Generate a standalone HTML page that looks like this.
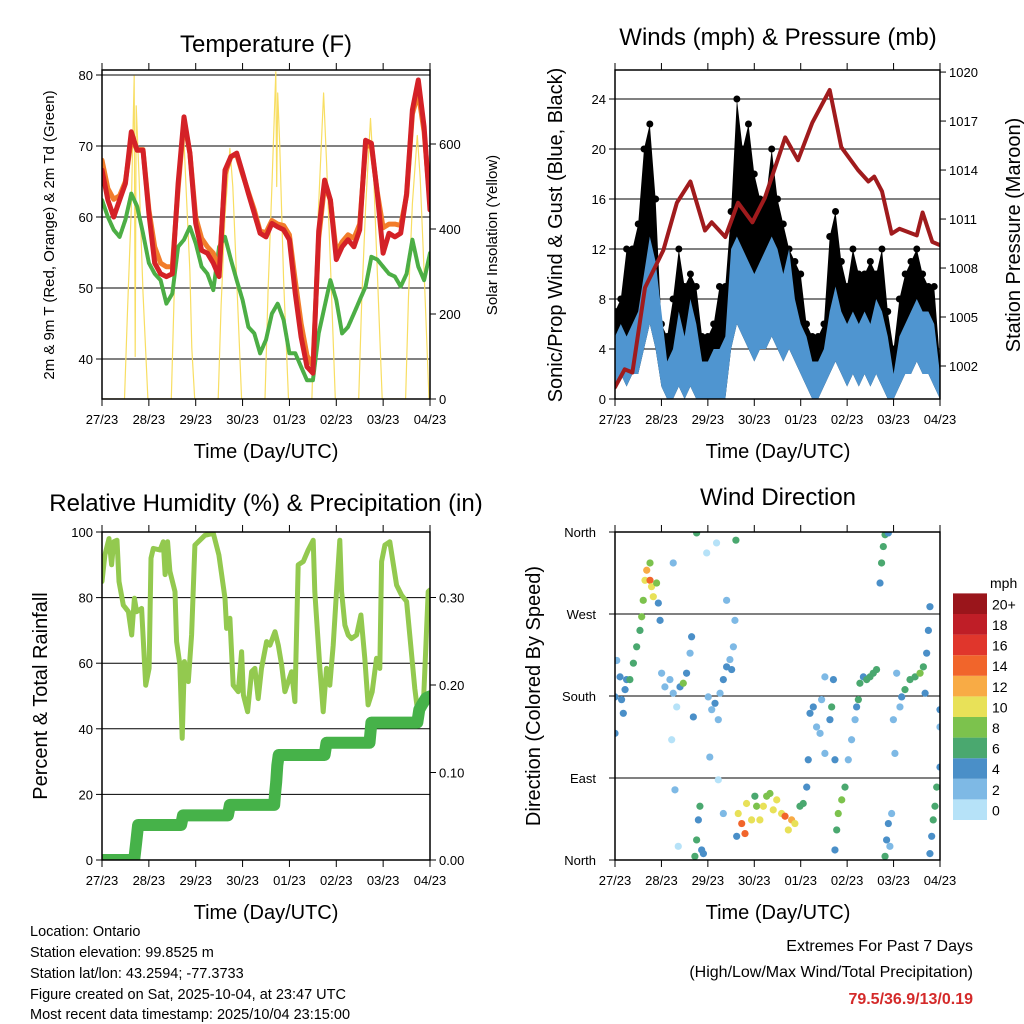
<!DOCTYPE html>
<html><head><meta charset="utf-8"><style>
html,body{margin:0;padding:0;background:#fff;}
svg{display:block;font-family:"Liberation Sans",Arial,sans-serif;}
</style></head><body>
<svg id="root" width="1024" height="1024" viewBox="0 0 1024 1024" xmlns="http://www.w3.org/2000/svg">
<defs>
<clipPath id="c1"><rect x="102" y="70" width="328" height="329"/></clipPath>
<clipPath id="c2"><rect x="615" y="70" width="325" height="329"/></clipPath>
<clipPath id="c3"><rect x="102" y="532" width="328" height="328"/></clipPath>
<clipPath id="c4"><rect x="615" y="532" width="325" height="328"/></clipPath>
</defs>
<g fill="#000">
<text x="266" y="52" font-size="24" text-anchor="middle">Temperature (F)</text>
<text x="778" y="45" font-size="24" text-anchor="middle">Winds (mph) &amp; Pressure (mb)</text>
<text x="266" y="511" font-size="24" text-anchor="middle">Relative Humidity (%) &amp; Precipitation (in)</text>
<text x="778" y="505" font-size="24" text-anchor="middle">Wind Direction</text>
<text transform="translate(54,235) rotate(-90)" font-size="15" text-anchor="middle">2m &amp; 9m T (Red, Orange) &amp; 2m Td (Green)</text>
<text transform="translate(497,235) rotate(-90)" font-size="15" text-anchor="middle">Solar Insolation (Yellow)</text>
<text transform="translate(562,235) rotate(-90)" font-size="20" text-anchor="middle">Sonic/Prop Wind &amp; Gust (Blue, Black)</text>
<text transform="translate(1020,235) rotate(-90)" font-size="20" text-anchor="middle">Station Pressure (Maroon)</text>
<text transform="translate(47,696) rotate(-90)" font-size="20" text-anchor="middle">Percent &amp; Total Rainfall</text>
<text transform="translate(540,696) rotate(-90)" font-size="20" text-anchor="middle">Direction (Colored By Speed)</text>
<text x="266" y="458" font-size="20" text-anchor="middle">Time (Day/UTC)</text>
<text x="778" y="458" font-size="20" text-anchor="middle">Time (Day/UTC)</text>
<text x="266" y="919" font-size="20" text-anchor="middle">Time (Day/UTC)</text>
<text x="778" y="919" font-size="20" text-anchor="middle">Time (Day/UTC)</text>
<g font-size="14.5">
<text x="30" y="936">Location: Ontario</text>
<text x="30" y="957">Station elevation: 99.8525 m</text>
<text x="30" y="978">Station lat/lon: 43.2594; -77.3733</text>
<text x="30" y="999">Figure created on Sat, 2025-10-04, at 23:47 UTC</text>
<text x="30" y="1019">Most recent data timestamp: 2025/10/04 23:15:00</text>
</g>
<text x="973" y="951" font-size="16" text-anchor="end">Extremes For Past 7 Days</text>
<text x="973" y="977" font-size="16" text-anchor="end">(High/Low/Max Wind/Total Precipitation)</text>
<text x="973" y="1004" font-size="16" font-weight="bold" fill="#d42a2a" text-anchor="end">79.5/36.9/13/0.19</text>
<text x="990" y="588" font-size="14">mph</text>
</g>
</svg>
<script>
// ---------- DATA ----------
const dayLabels=["27/23","28/23","29/23","30/23","01/23","02/23","03/23","04/23"];
const tempTicks=[40,50,60,70,80];
const solarTicks=[0,200,400,600];
const windTicks=[0,4,8,12,16,20,24];
const pressTicks=[1002,1005,1008,1011,1014,1017,1020];
const rhTicks=[0,20,40,60,80,100];
const precipTicks=[0,0.1,0.2,0.3];
const precipTickLabels=["0.00","0.10","0.20","0.30"];
const dirTicks=[0,90,180,270,360];
const dirTickLabels=["North","East","South","West","North"];
const speedBins=["0","2","4","6","8","10","12","14","16","18","20+"];

const hours3=[0,3,6,9,12,15,18,21,24,27,30,33,36,39,42,45,48,51,54,57,60,63,66,69,72,75,78,81,84,87,90,93,96,99,102,105,108,111,114,117,120,123,126,129,132,135,138,141,144,147,150,153,156,159,162,165,168];
const temp2m=[66.6,62.4,60,62.4,64.7,72,69.4,69.4,60.5,53.5,52,51.6,52,64.7,74.1,69,59.1,55.3,54.9,53.5,51.6,66.6,68.5,69,66.2,63.3,60.5,57.7,57.2,59.1,58.6,58.2,56.8,49.2,43.1,38.9,38,58,65.2,62.4,54,55.8,56.8,55.8,58.2,70.8,70.4,63.3,54.9,57.7,57.2,57.7,63.3,75.1,79.3,72.7,61];
const temp9m=[68,64,62.5,63,65,71,69.5,69.5,61,55.8,53.5,53,53,64,73.5,69,60,57,55.8,54.9,52.5,66,68.5,68.8,66,63.5,61,58,57.8,59.5,59,58.8,57.5,51,45,40.5,39,57,64.5,62.4,55,56.5,57.5,57,59,70,70,63.5,58.5,59,59,58.8,63,74.5,77.5,72,62];
const dewpoint=[62.4,60,58.2,57.2,59.6,63.3,61.5,57.7,53.5,52,51.1,47.8,49.2,55.8,56.8,58.6,56.3,53,52,49.7,55.8,57.2,54,51.1,48.3,44.5,43.6,40.8,42.7,46.4,47.8,45.5,40.8,40.8,38.9,37,37,43.6,47.4,51.1,48.3,43.6,44.5,46.4,48.3,50.2,54.4,54,53,52,51.6,50.2,52,56.8,53,51.1,54.9];
const solarHours=[0,11.5,13,15,16.5,17,17.5,19,21,23.5,35.5,37,39,41.5,43,45,46,47.5,59.5,61,63,65.5,67,69,71.5,83.5,85,87,88.5,89,89.5,90,91,93,95.5,107.5,109,111,113.5,115,117,119.5,131.5,133,135,137.5,139,141,143.5,155.5,157,159,161.5,163,165,167.5,168];
const solarVals=[0,0,200,450,760,100,690,520,250,0,0,250,480,660,500,300,120,0,0,220,430,590,500,280,0,0,250,500,700,770,500,720,600,280,0,0,250,460,720,560,320,0,0,230,450,660,540,300,0,0,240,460,620,520,300,0,0];

const pressHours=[0,5,9,15.5,25,32,39,46.5,50,57,63.6,71,77.5,88,94.6,102,111,117,125.6,131,134,138,143,147,156,159,164,168];
const pressVals=[1000.7,1001.8,1001.6,1006.8,1009.1,1012,1013.3,1010.3,1010.8,1009.9,1012,1010.8,1012.3,1016,1014.6,1016.9,1018.9,1015.4,1014,1013.3,1013.6,1012.7,1010.1,1010.4,1010,1011.4,1009.6,1009.4];
const gustHigh=[7,8,12,12,14,20,22,16,6,5,8,12,9,10,9,5,5,6,9,9,15,24,20,22,18,16,16,20,16,14,12,11,10,6,5,5,6,13,15,11,9,12,10,10,11,10,12,7,4,8,10,11,12,10,9,9,3];
const windHigh=[5,6,5,6,7,10,13,11,7,3,4,7,5,8,6,3,3,4,4,5,12,13,12,11,10,11,12,13,12,10,12,8,6,5,3,3,4,7,9,7,6,7,6,7,6,8,7,5,2,5,6,7,8,7,7,6,2];
const windLow=[1,2,1,2,2,4,6,4,1,0,0,1,0,1,0,0,0,0,0,0,4,6,5,4,3,4,4,5,4,3,4,3,2,1,0,0,1,2,3,2,1,2,1,2,1,2,1,0,0,1,2,2,3,2,2,1,0];

const rhHours=[0,1.5,3.6,4.9,6,7.7,8.7,10.9,13.5,15.2,16.6,17.7,20.3,22.4,24.1,25.1,26.3,29.7,31.4,32.3,33.6,34.8,37.4,38.2,39.9,41.1,42.2,44.2,45.9,47.6,52.7,57,59.9,63,63.8,65.5,67.2,69.8,71.5,72.4,74.6,76.6,78.3,80,81.7,84.3,86,88.6,90.3,92,93.7,97.1,98.8,100.5,103.1,105.6,108.2,109,111.6,113.3,115,116.7,118.4,120.1,121.8,122.7,124.4,126.1,127.8,130.4,132.6,134.6,136.3,138.4,140.6,142.3,143.2,144.9,147.4,150.9,153.4,156,160.2,161.9,164.5,167.1,167.9];
const rhVals=[84.9,93,98,90,97,97.5,84.9,77.7,75.7,68.6,79.8,75.7,76.7,53.3,58.4,92,95,94.5,97,87,97,88,81.8,66.6,59.5,37.1,60.5,54.4,68.6,96,99,99.6,93,79.8,70.6,73.7,53.3,51.3,63.5,50.3,45.2,57.4,58.4,49.2,58.4,66.6,65.5,69.6,65.5,59.5,51.3,57.4,48.3,90,91,94.5,97.5,81.8,58.4,45.2,58.4,53.3,65.5,81.8,97.5,81.8,71.6,68.6,67.5,68.6,74.7,61.5,47.3,51.3,61.5,58.4,91,96,97,83.8,80.8,78.8,52.3,44.2,46.2,81.8,82.3];
const precipHours=[0,16.5,17.5,18.5,40.5,41.5,64.5,65.5,88.2,88.6,89.2,89.8,90.5,114,115,137,138,161.5,162.5,164,166,168];
const precipVals=[0,0,0.02,0.04,0.04,0.051,0.051,0.063,0.063,0.075,0.089,0.108,0.12,0.12,0.134,0.134,0.157,0.157,0.172,0.178,0.185,0.187];

const wdHours=[0,0,0.9,2.6,3.4,4.3,5.2,6,7.7,9.5,11.2,12.9,13.8,14.6,15.5,16.4,18.1,18.9,19.8,21.5,22.4,18.1,23.3,24.1,25.8,28.4,30.1,31.9,33.6,35.3,37,38.8,39.6,30.1,29.3,31,32.7,40.5,41.3,42.2,43.1,43.9,44.8,45.7,42.2,47.4,48.2,50,51.7,53.4,54.3,56,57.7,59.4,60.3,61.2,62,62.5,57.7,52.5,49,53.4,56,62.9,63.7,65.5,67.2,68,70.6,73.2,74.9,76.7,78.4,80.1,81.8,83.6,86.1,87.9,89.6,91.3,93,95.6,97.3,99.1,72.3,99.9,100.8,102.5,104.2,106,106.8,108.5,111.1,112,112.9,113.7,108.5,113.7,114.6,115.4,117.2,118.9,120.6,122.3,124.1,124.9,125.8,126.6,128.4,130.1,131.8,133.5,135.2,137,137.8,138.7,139.6,141.3,139.6,140.4,141.3,142.1,143,143.9,144.7,145.6,147.3,148.2,149.9,152.5,155.1,157.7,159.4,161.1,162,162.8,160.3,162.8,163.7,164.5,165.4,166.3,168,168,168];
const wdDirs=[139,179,219,201,176,161,187,198,198,216,234,252,267,285,307,318,307,300,289,304,282,326,263,205,190,198,183,168,190,194,205,227,245,326,132,77,15,157,4,22,44,59,11,7,359,337,179,165,172,154,183,198,212,220,209,234,263,351,285,348,113,88,51,26,51,40,29,62,44,59,44,59,70,73,55,66,51,48,33,44,40,59,62,80,70,110,161,168,146,139,176,117,154,168,198,110,201,11,33,51,66,80,110,132,154,168,176,194,201,198,201,205,209,304,326,344,357,359,4,22,40,15,51,154,117,205,168,179,187,198,201,205,212,227,252,278,183,7,26,44,59,80,102,146,165];
const wdSpeeds=[4,3,2,4,4,3,4,3,5,5,6,6,7,7,10,11,13,10,9,7,4,7,3,2,2,2,1,0,3,7,4,2,4,1,0,1,0,3,6,6,4,5,3,4,6,0,2,2,3,1,1,4,3,2,4,2,2,6,1,0,1,0,1,4,9,13,13,10,9,8,10,9,7,8,10,9,9,13,10,11,9,6,5,4,6,3,4,4,2,2,1,2,4,6,4,4,1,4,6,8,7,5,2,2,2,3,6,6,4,6,6,6,6,4,6,6,6,4,6,4,4,2,2,1,1,1,2,4,6,6,6,7,6,4,4,4,4,4,4,6,6,6,4,2,4];
const speedColors=["#b6e2f8","#7eb9e5","#4a8fc8","#4aa86f","#7cc24d","#e8e158","#f8ab45","#f1652b","#e0362c","#bf1e27","#9a151b"];

// ---------- DRAW ----------
const NS="http://www.w3.org/2000/svg";
const root=document.getElementById("root");
function mk(tag,attrs,parent){const e=document.createElementNS(NS,tag);for(const k in attrs)e.setAttribute(k,attrs[k]);(parent||root).appendChild(e);return e;}
const P1={x0:102,x1:430,y0:70,y1:399},P2={x0:615,x1:940,y0:70,y1:399},P3={x0:102,x1:430,y0:532,y1:860},P4={x0:615,x1:940,y0:532,y1:860};
function xs(P,h){return P.x0+h/168*(P.x1-P.x0);}
const yT=v=>75+(80-v)*7.1, yS=v=>399-v*85/200;
const yW=v=>399-v*12.5, yP=p=>366-(p-1002)*16.33;
const yR=v=>860-v*3.28, yPr=v=>860-v*875;
const yD=d=>860-d*328/360;

function axes(P,name){
  const g=mk("g",{});
  
  
  for(let i=0;i<dayLabels.length;i++){
    const x=xs(P,i*24);
    mk("line",{x1:x,x2:x,y1:P.y1,y2:P.y1+7,stroke:"#000","stroke-width":1},g);
    mk("line",{x1:x,x2:x,y1:P.y0,y2:P.y0-7,stroke:"#000","stroke-width":1},g);
    const t=mk("text",{x:x,y:P.y1+25,"font-size":13,"text-anchor":"middle"},g);
    t.textContent=dayLabels[i];
    
    
  }
  return g;
}
function leftTicks(g,P,vals,labels,fy,grid){
  vals.forEach((v,i)=>{const y=fy(v);
    if(grid&&y>P.y0+1&&y<P.y1-1)mk("line",{x1:P.x0,x2:P.x1,y1:y,y2:y,stroke:"#000","stroke-width":1},g);
    mk("line",{x1:P.x0-6,x2:P.x0,y1:y,y2:y,stroke:"#000"},g);
    const t=mk("text",{x:P.x0-9,y:y+5,"font-size":13,"text-anchor":"end"},g);t.textContent=labels[i];
    
    });
}
function rightTicks(g,P,vals,labels,fy){
  vals.forEach((v,i)=>{const y=fy(v);
    mk("line",{x1:P.x1,x2:P.x1+6,y1:y,y2:y,stroke:"#000"},g);
    const t=mk("text",{x:P.x1+9,y:y+5,"font-size":13},g);t.textContent=labels[i];
    
    });
}
function frame(P,name){const r=mk("rect",{x:P.x0,y:P.y0,width:P.x1-P.x0,height:P.y1-P.y0,fill:"none",stroke:"#000","stroke-width":1.5});
  
  }
function line(P,clip,hs,vs,fx,fy,attrs,name){
  const d=hs.map((h,i)=>(i?"L":"M")+xs(P,h).toFixed(1)+","+fy(vs[i]).toFixed(1)).join("");
  const a=Object.assign({d:d,fill:"none","clip-path":"url(#"+clip+")","stroke-linejoin":"round","stroke-linecap":"round"},attrs);
  const p=mk("path",a);
  
  
  return p;
}

// Panel 1
let g=axes(P1,"temperature");
leftTicks(g,P1,tempTicks,tempTicks.map(String),yT,true);
rightTicks(g,P1,solarTicks,solarTicks.map(String),yS);
line(P1,"c1",solarHours,solarVals,null,yS,{stroke:"#f8de62","stroke-width":1.2},"solar-insolation-line");
line(P1,"c1",hours3,dewpoint,null,yT,{stroke:"#4cae45","stroke-width":4,"stroke-dasharray":"4 1"},"dewpoint-line");
line(P1,"c1",hours3,temp9m,null,yT,{stroke:"#f27d2b","stroke-width":5},"temp-9m-line");
line(P1,"c1",hours3,temp2m,null,yT,{stroke:"#d42127","stroke-width":5},"temp-2m-line");
frame(P1,"temperature");

// Panel 2
g=axes(P2,"winds");
leftTicks(g,P2,windTicks,windTicks.map(String),yW,true);
rightTicks(g,P2,pressTicks,pressTicks.map(String),yP);
{
  let d="";hours3.forEach((h,i)=>{d+=(i?"L":"M")+xs(P2,h).toFixed(1)+","+yW(gustHigh[i]).toFixed(1);});
  for(let i=hours3.length-1;i>=0;i--)d+="L"+xs(P2,hours3[i]).toFixed(1)+","+yW(windLow[i]).toFixed(1);
  const gp=mk("path",{d:d+"Z",fill:"#000","clip-path":"url(#c2)"});
  
  
  hours3.forEach((h,i)=>{const c=mk("circle",{cx:xs(P2,h),cy:yW(gustHigh[i]),r:3.5,fill:"#000","clip-path":"url(#c2)"});
    
    });
  let d2="";hours3.forEach((h,i)=>{d2+=(i?"L":"M")+xs(P2,h).toFixed(1)+","+yW(windHigh[i]).toFixed(1);});
  for(let i=hours3.length-1;i>=0;i--)d2+="L"+xs(P2,hours3[i]).toFixed(1)+","+yW(windLow[i]).toFixed(1);
  const wp=mk("path",{d:d2+"Z",fill:"#4f95d0","clip-path":"url(#c2)"});
  
  
}
line(P2,"c2",pressHours,pressVals,null,yP,{stroke:"#a01b1d","stroke-width":4},"pressure-line");
frame(P2,"winds");

// Panel 3
g=axes(P3,"humidity");
leftTicks(g,P3,rhTicks,rhTicks.map(String),yR,true);
rightTicks(g,P3,precipTicks,precipTickLabels,yPr);
line(P3,"c3",rhHours,rhVals,null,yR,{stroke:"#93c94f","stroke-width":5},"relative-humidity-line");
line(P3,"c3",precipHours,precipVals,null,yPr,{stroke:"#46b249","stroke-width":12},"precipitation-line");
frame(P3,"humidity");

// Panel 4
g=axes(P4,"direction");
dirTicks.forEach((v,i)=>{const y=yD(v);
  if(y>P4.y0+1&&y<P4.y1-1)mk("line",{x1:P4.x0,x2:P4.x1,y1:y,y2:y,stroke:"#000"},g);
  mk("line",{x1:P4.x0-6,x2:P4.x0,y1:y,y2:y,stroke:"#000"},g);
  const t=mk("text",{x:P4.x0-19,y:y+5,"font-size":13,"text-anchor":"end"},g);t.textContent=dirTickLabels[i];
  
  });
wdHours.forEach((h,i)=>{
  const bin=Math.min(10,Math.round(wdSpeeds[i]/2));
  const c=mk("circle",{cx:xs(P4,h),cy:yD(wdDirs[i]),r:3.6,fill:speedColors[bin],"clip-path":"url(#c4)"});
  
  
});
frame(P4,"direction");
// colorbar
speedBins.forEach((lab,i)=>{
  const y=820-(i+1)*20.6;
  const r=mk("rect",{x:953,y:y,width:34,height:20.6,fill:speedColors[i]});
  
  
  const t=mk("text",{x:992,y:y+16,"font-size":14});t.textContent=lab;
  
  
});
</script>
</body></html>
